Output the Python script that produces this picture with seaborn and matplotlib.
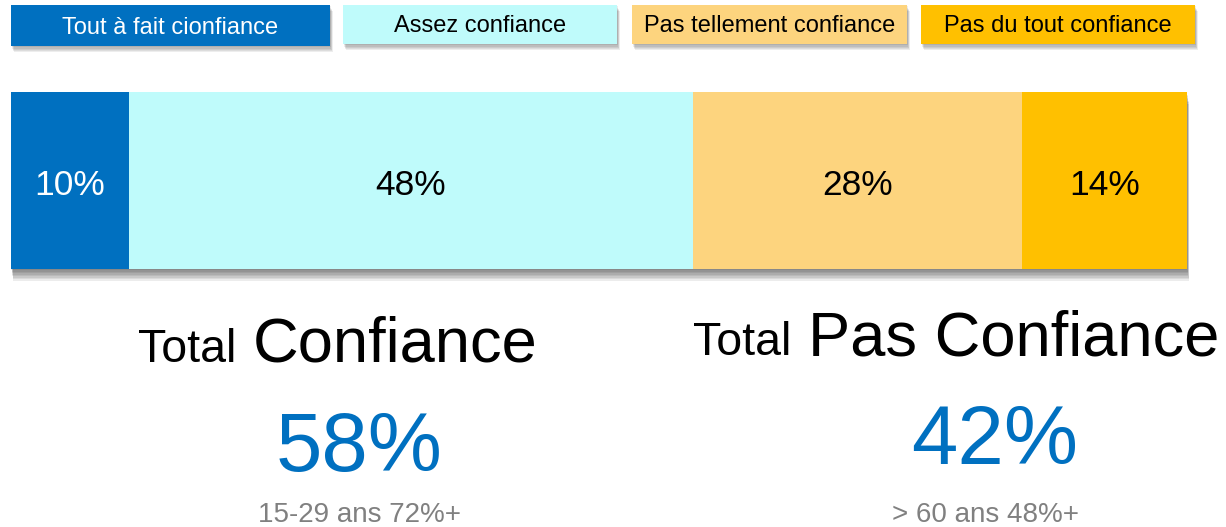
import matplotlib
matplotlib.use("Agg")
import matplotlib.pyplot as plt
import matplotlib.patheffects as pe
from matplotlib.patches import Rectangle
import numpy as np
import seaborn as sns

# Response categories and their shares (%)
categories = ["Tout à fait cionfiance", "Assez confiance",
              "Pas tellement confiance", "Pas du tout confiance"]
shares = [10, 48, 28, 14]
colors = ["#0070C0", "#BFFBFB", "#FDD47E", "#FFC000"]
value_colors = ["white", "black", "black", "black"]

# Summary blocks below the bar
total_titles = ["Confiance", "Pas Confiance"]
total_values = [58, 42]
total_notes = ["15-29 ans 72%+", "> 60 ans 48%+"]

W, H = 1226, 527
sns.set_theme(style="white")
plt.rcParams["font.family"] = ["Liberation Sans", "DejaVu Sans"]

fig = plt.figure(figsize=(W / 100, H / 100), dpi=100)
ax = fig.add_axes([0, 0, 1, 1])


def soft_shadow(steps=8, alpha=0.07, dx=0.25, dy=1.0):
    effects = [pe.SimplePatchShadow(offset=(dx * d, -dy * d), shadow_rgbFace="black",
                                    alpha=alpha) for d in range(1, steps + 1)]
    return effects + [pe.Normal()]


def fx(x):
    return x / W


def fy(y):
    return 1 - y / H


# Stacked horizontal bar: draw cumulative totals from the largest down
cum = np.cumsum(shares)
for i in reversed(range(len(shares))):
    sns.barplot(x=[cum[i]], y=["Confiance"], orient="h", color=colors[i],
                saturation=1, width=1, errorbar=None, linewidth=0, ax=ax)
ax.patches[0].set_path_effects(soft_shadow(steps=8, alpha=0.075, dx=0.2, dy=1.05))

for i, s in enumerate(shares):
    ax.text(cum[i] - s / 2, 0.03, f"{s}%", ha="center", va="center",
            fontsize=25.5, color=value_colors[i])

# Map data units onto the canvas: bar spans x 11..1187 px, y 92..269 px
x0px, x1px, y0px, y1px = 11, 1187, 92, 269
ppu = (x1px - x0px) / 100
ax.set_xlim(-x0px / ppu, (W - x0px) / ppu)
bh = y1px - y0px
ax.set_ylim(0.5 + (H - y1px) / bh, -0.5 - y0px / bh)
ax.axis("off")

# Legend boxes across the top
boxes = [(11, 5, 330, 46), (343, 5, 617, 44), (632, 5, 907, 44), (921, 5, 1195, 44)]
for (bx0, by0, bx1, by1), cat, col, tcol in zip(boxes, categories, colors, value_colors):
    r = Rectangle((fx(bx0), fy(by1)), fx(bx1 - bx0), (by1 - by0) / H,
                  transform=fig.transFigure, facecolor=col, edgecolor="none")
    r.set_path_effects(soft_shadow(steps=5, alpha=0.07, dx=0.4, dy=0.9))
    fig.add_artist(r)
    fig.text(fx((bx0 + bx1) / 2), fy((by0 + by1) / 2 + 2), cat, ha="center", va="center",
             fontsize=17, color=tcol)

# Summary blocks
title_pos = [(138, 253, 362), (693, 808, 355)]
value_pos = [(359, 471), (995, 464)]
note_pos = [(360, 522), (986, 522)]
for k in range(2):
    xs, xt, yb = title_pos[k]
    fig.text(fx(xs), fy(yb), "Total", ha="left", va="baseline", fontsize=33.5, color="black")
    fig.text(fx(xt), fy(yb), total_titles[k], ha="left", va="baseline", fontsize=45.5,
             color="black")
    vx, vy = value_pos[k]
    fig.text(fx(vx), fy(vy), f"{total_values[k]}%", ha="center", va="baseline",
             fontsize=60, color="#0070C0")
    nx, ny = note_pos[k]
    fig.text(fx(nx), fy(ny), total_notes[k], ha="center", va="baseline", fontsize=20,
             color="#808080")

fig.savefig("out.png", dpi=100)
